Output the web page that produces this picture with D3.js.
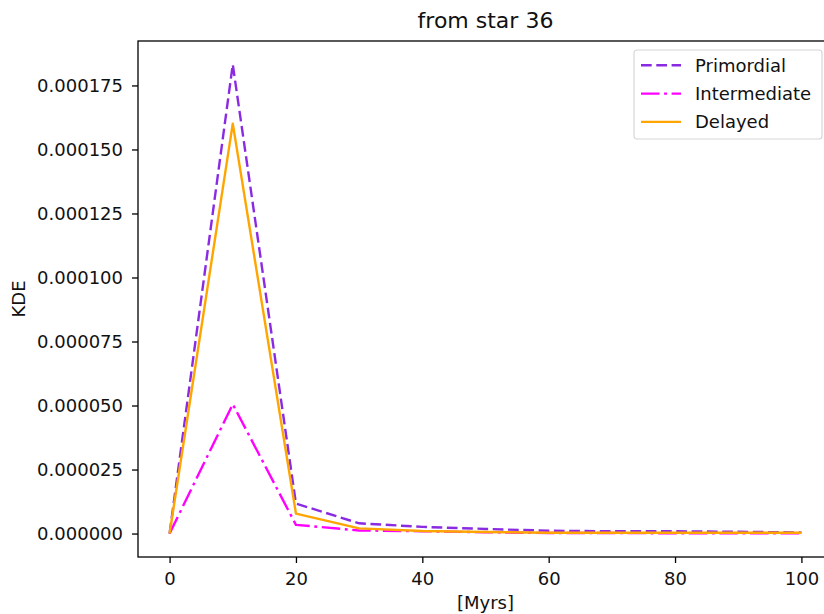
<!DOCTYPE html>
<html>
<head>
<meta charset="utf-8">
<script src="https://cdn.jsdelivr.net/npm/d3@7"></script>
<style>
  body { margin: 0; background: #fff; }
  svg { font-family: "DejaVu Sans", sans-serif; }
</style>
</head>
<body>
<div id="chart"></div>
<script>
// x values in Myrs
var times = [0, 10, 20, 30, 40, 50, 60, 70, 80, 90, 100];
var primordial = [0, 1.832e-4, 1.17e-5, 4.0e-6, 2.6e-6, 1.8e-6, 1.1e-6, 0.9e-6, 0.9e-6, 0.7e-6, 0.4e-6];
var intermediate = [0, 5.05e-5, 3.4e-6, 1.2e-6, 0.9e-6, 0.5e-6, 0.2e-6, 0.2e-6, 0.1e-6, 0.1e-6, 0.1e-6];
var delayed = [0, 1.601e-4, 7.8e-6, 2.0e-6, 1.0e-6, 0.6e-6, 0.3e-6, 0.3e-6, 0.3e-6, 0.3e-6, 0.3e-6];
var xTicks = [0, 20, 40, 60, 80, 100];
var yTicks = [0, 0.000025, 0.00005, 0.000075, 0.0001, 0.000125, 0.00015, 0.000175];

var series = [
  { name: "Primordial", values: primordial, color: "#8a2be2", dash: "10.7,4.6" },
  { name: "Intermediate", values: intermediate, color: "#ff00ff", dash: "18.5,4.6,2.9,4.6" },
  { name: "Delayed", values: delayed, color: "#ffa500", dash: null }
];

var svgWidth = 824, svgHeight = 614;
var margin = { top: 41, right: -9, bottom: 57, left: 138 };
var width = svgWidth - margin.left - margin.right,
    height = svgHeight - margin.top - margin.bottom;

var svg = d3.select("#chart").append("svg")
    .attr("width", svgWidth)
    .attr("height", svgHeight);

var g = svg.append("g")
    .attr("transform", "translate(" + margin.left + "," + margin.top + ")");

var ymax = d3.max(primordial);
var x = d3.scaleLinear().domain([-5, 105]).range([0, width]);
var y = d3.scaleLinear().domain([-0.05 * ymax, 1.05 * ymax]).range([height, 0]);

var xAxis = g.append("g")
    .attr("transform", "translate(0," + height + ")")
    .call(d3.axisBottom(x).tickValues(xTicks).tickSize(6).tickPadding(9).tickFormat(d3.format("d")));
var yAxis = g.append("g")
    .call(d3.axisLeft(y).tickValues(yTicks).tickSize(6).tickPadding(9).tickFormat(d3.format(".6f")));

[xAxis, yAxis].forEach(function (a) {
  a.select(".domain").remove();
  a.selectAll("line").attr("stroke", "#000").attr("stroke-width", 1.3);
  a.selectAll("text").attr("font-size", 18).attr("fill", "#111").attr("font-family", "DejaVu Sans");
});

var line = d3.line()
    .x(function (d, i) { return x(times[i]); })
    .y(function (d) { return y(d); });

series.forEach(function (s) {
  g.append("path")
    .datum(s.values)
    .attr("fill", "none")
    .attr("stroke", s.color)
    .attr("stroke-width", 2.4)
    .attr("stroke-linejoin", "round")
    .attr("stroke-dasharray", s.dash)
    .attr("d", line);
});

// frame
g.append("rect")
  .attr("width", width).attr("height", height)
  .attr("fill", "none").attr("stroke", "#000").attr("stroke-width", 1.3);

// title & labels
svg.append("text")
  .attr("x", margin.left + width / 2).attr("y", 27.5)
  .attr("text-anchor", "middle").attr("font-size", 22).attr("fill", "#111")
  .text("from star 36");
svg.append("text")
  .attr("x", margin.left + width / 2).attr("y", 609)
  .attr("text-anchor", "middle").attr("font-size", 18).attr("fill", "#111")
  .text("[Myrs]");
svg.append("text")
  .attr("transform", "translate(25," + (margin.top + height / 2) + ") rotate(-90)")
  .attr("text-anchor", "middle").attr("font-size", 18).attr("fill", "#111")
  .text("KDE");

// legend
var legend = svg.append("g").attr("transform", "translate(634,50)");
legend.append("rect")
  .attr("width", 188).attr("height", 89).attr("rx", 3)
  .attr("fill", "#fff").attr("fill-opacity", 0.8)
  .attr("stroke", "#d6d6d6").attr("stroke-width", 1.2);
series.forEach(function (s, i) {
  var row = legend.append("g").attr("transform", "translate(0," + (15.3 + i * 28.3) + ")");
  row.append("line")
    .attr("x1", 7).attr("x2", 47)
    .attr("stroke", s.color).attr("stroke-width", 2.4)
    .attr("stroke-dasharray", s.dash);
  row.append("text")
    .attr("x", 61).attr("y", 6.5)
    .attr("font-size", 18).attr("fill", "#111")
    .text(s.name);
});
</script>
</body>
</html>
